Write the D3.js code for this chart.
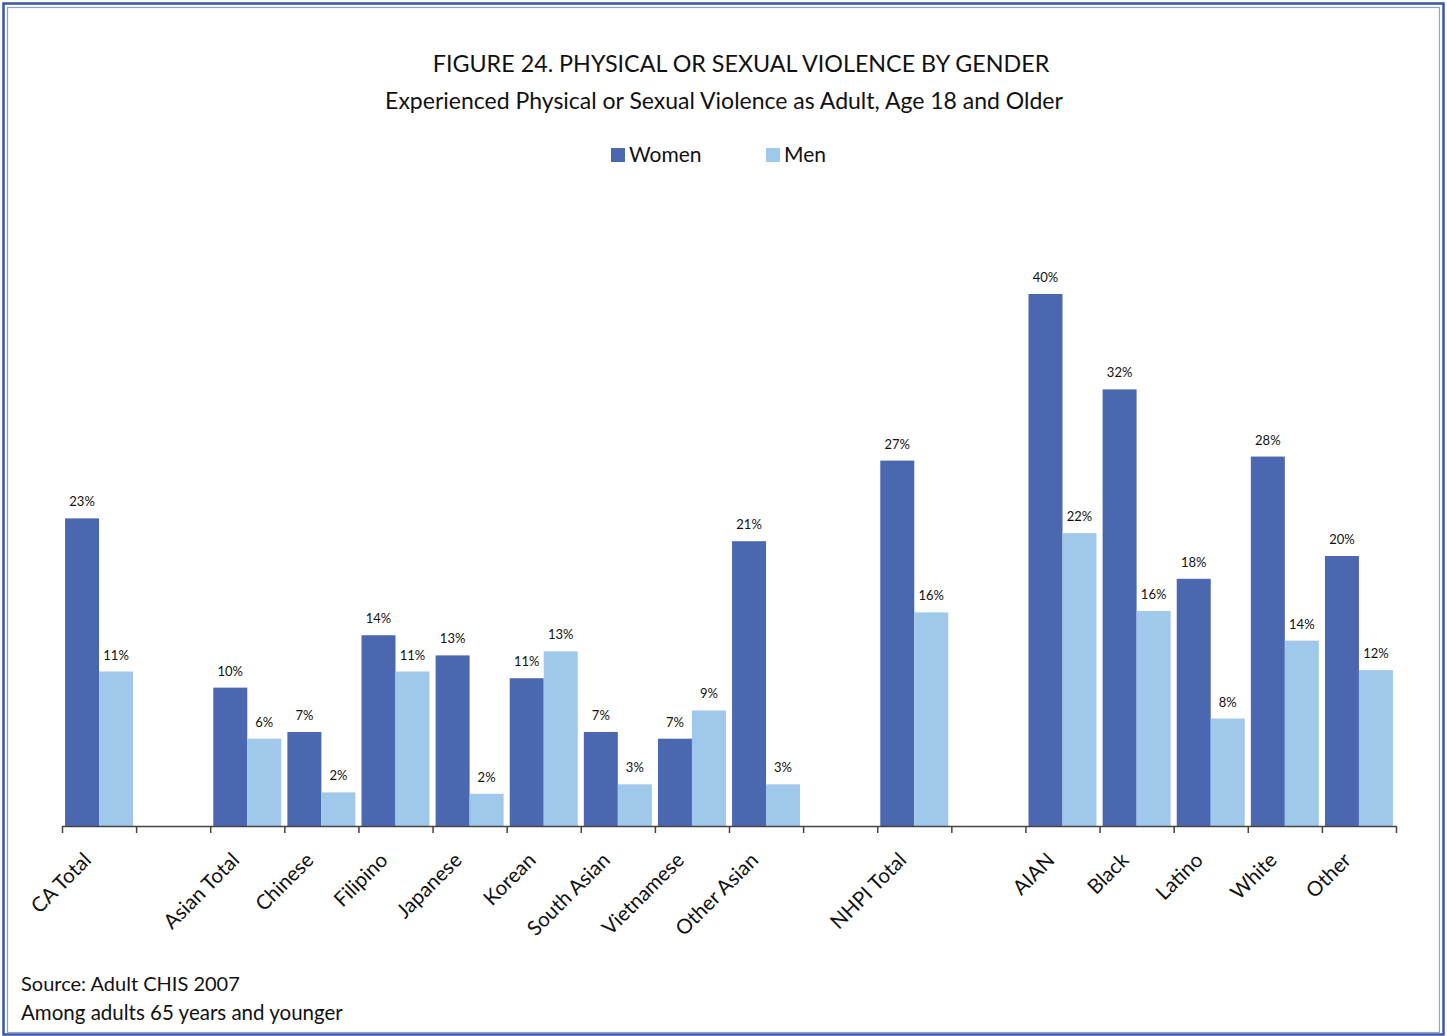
<!DOCTYPE html>
<html>
<head>
<meta charset="utf-8">
<script src="https://cdn.jsdelivr.net/npm/d3@7"></script>
<style>
  body { margin: 0; background: #fff; }
  text { font-family: Lato, "Noto Sans", sans-serif; fill: #111; }
</style>
</head>
<body>
<div id="chart"></div>
<script>
// Chart values ("" marks an empty slot)
var categories = ["CA Total", "", "Asian Total", "Chinese", "Filipino", "Japanese", "Korean",
  "South Asian", "Vietnamese", "Other Asian", "", "NHPI Total", "", "AIAN", "Black", "Latino", "White", "Other"];
var women = [22.9, null, 10.3, 7.0, 14.2, 12.7, 11.0, 7.0, 6.5, 21.2, null, 27.2, null, 39.6, 32.5, 18.4, 27.5, 20.1];
var men = [11.5, null, 6.5, 2.5, 11.5, 2.4, 13.0, 3.1, 8.6, 3.1, null, 15.9, null, 21.8, 16.0, 8.0, 13.8, 11.6];
var womenLabels = ["23%", "", "10%", "7%", "14%", "13%", "11%", "7%", "7%", "21%", "", "27%", "", "40%", "32%", "18%", "28%", "20%"];
var menLabels = ["11%", "", "6%", "2%", "11%", "2%", "13%", "3%", "9%", "3%", "", "16%", "", "22%", "16%", "8%", "14%", "12%"];
var seriesNames = ["Women", "Men"];
var seriesColors = ["#4a67b0", "#9fc8ea"];

var svgWidth = 1447;
var svgHeight = 1036;

// plot area (in page pixels)
var plot = { left: 62, right: 1396, bottom: 826 };

var svg = d3.select("#chart")
  .append("svg")
  .attr("width", svgWidth)
  .attr("height", svgHeight);

// frame
svg.append("rect")
  .attr("x", 3.5).attr("y", 3.5)
  .attr("width", svgWidth - 7).attr("height", svgHeight - 5)
  .attr("fill", "none").attr("stroke", "#3a57a6").attr("stroke-width", 2.5);
svg.append("rect")
  .attr("x", 7.5).attr("y", 7.5)
  .attr("width", svgWidth - 15).attr("height", svgHeight - 11)
  .attr("fill", "none").attr("stroke", "#8e9fd0").attr("stroke-width", 1.2);

// titles
svg.append("text")
  .attr("x", 741).attr("y", 72)
  .attr("text-anchor", "middle")
  .style("font-size", "23.3px")
  .text("FIGURE 24. PHYSICAL OR SEXUAL VIOLENCE BY GENDER");

svg.append("text")
  .attr("x", 724).attr("y", 109)
  .attr("text-anchor", "middle")
  .style("font-size", "23px")
  .text("Experienced Physical or Sexual Violence as Adult, Age 18 and Older");

// legend
var legendX = [611, 766];
var legend = svg.selectAll(".legend")
  .data(seriesNames)
  .enter()
  .append("g")
  .attr("class", "legend")
  .attr("transform", (d, i) => `translate(${legendX[i]}, 148)`);
legend.append("rect")
  .attr("width", 14).attr("height", 14)
  .attr("fill", (d, i) => seriesColors[i]);
legend.append("text")
  .attr("x", 18).attr("y", 14)
  .style("font-size", "21px")
  .text(d => d);

// scales
var slots = d3.range(categories.length);
var xBand = d3.scaleBand()
  .domain(slots)
  .range([plot.left, plot.right]);

var xSeries = d3.scaleBand()
  .domain(seriesNames)
  .range([0, xBand.bandwidth()])
  .paddingOuter(0.09);

var yScale = d3.scaleLinear()
  .domain([0, 40])
  .range([plot.bottom, plot.bottom - 40 * 13.434]);

var xTicks = d3.scaleLinear()
  .domain([0, categories.length])
  .range([plot.left, plot.right]);

// bars
var rows = slots.filter(i => women[i] !== null);
var chartGroup = svg.append("g");

seriesNames.forEach(function(name, s) {
  var vals = s === 0 ? women : men;
  var labs = s === 0 ? womenLabels : menLabels;

  chartGroup.selectAll(".bar-" + s)
    .data(rows)
    .enter()
    .append("rect")
    .attr("class", "bar-" + s)
    .attr("x", i => xBand(i) + xSeries(name))
    .attr("y", i => yScale(vals[i]))
    .attr("width", xSeries.bandwidth())
    .attr("height", i => plot.bottom - yScale(vals[i]))
    .attr("fill", seriesColors[s]);

  chartGroup.selectAll(".label-" + s)
    .data(rows)
    .enter()
    .append("text")
    .attr("class", "label-" + s)
    .attr("x", i => xBand(i) + xSeries(name) + xSeries.bandwidth() / 2)
    .attr("y", i => yScale(vals[i]) - 12)
    .attr("text-anchor", "middle")
    .style("font-size", "13px")
    .text(i => labs[i]);
});

// x axis with ticks at slot boundaries
var bottomAxis = d3.axisBottom(xTicks)
  .tickValues(d3.range(categories.length + 1))
  .tickSize(7)
  .tickSizeOuter(0)
  .tickFormat("");

var axisG = svg.append("g")
  .attr("transform", `translate(0, ${plot.bottom})`)
  .call(bottomAxis);
axisG.selectAll("path, line").attr("stroke", "#444").attr("stroke-width", 1.5);

// rotated category labels
svg.selectAll(".cat")
  .data(rows)
  .enter()
  .append("text")
  .attr("class", "cat")
  .attr("transform", i => `translate(${xBand(i) + xBand.bandwidth() / 2 - 17}, 851) rotate(-45)`)
  .attr("text-anchor", "end")
  .attr("dy", "0.72em")
  .style("font-size", "20.5px")
  .text(i => categories[i]);

// notes
svg.append("text")
  .attr("x", 21).attr("y", 991)
  .style("font-size", "20px")
  .text("Source: Adult CHIS 2007");
svg.append("text")
  .attr("x", 21).attr("y", 1020)
  .style("font-size", "20.5px")
  .text("Among adults 65 years and younger");
</script>
</body>
</html>
